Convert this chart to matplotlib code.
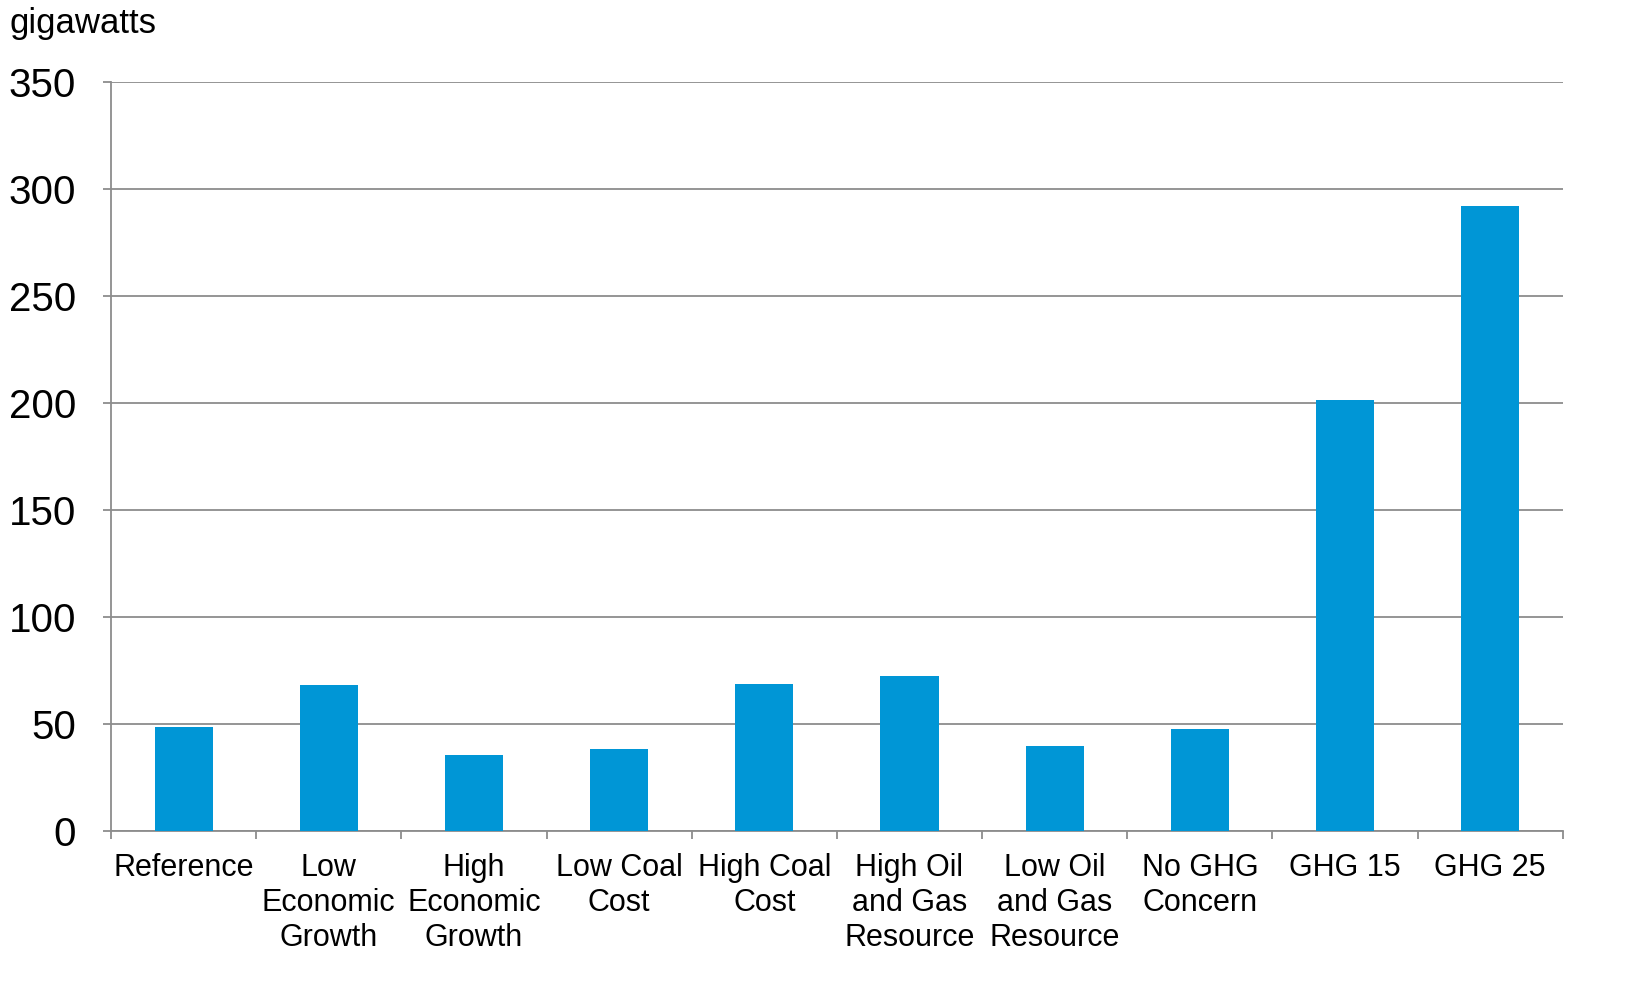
import matplotlib
matplotlib.use("Agg")
import matplotlib.pyplot as plt
import numpy as np

plt.rcParams['font.family'] = ['Liberation Sans', 'DejaVu Sans']

# Categorias e valores (gigawatts)
categorias = ["Reference", "Low\nEconomic\nGrowth", "High\nEconomic\nGrowth",
              "Low Coal\nCost", "High Coal\nCost", "High Oil\nand Gas\nResource",
              "Low Oil\nand Gas\nResource", "No GHG\nConcern", "GHG 15", "GHG 25"]
valores = [48.5, 68.2, 35.5, 38.3, 68.6, 72.5, 39.7, 47.7, 201.3, 292.0]
yticks = [0, 50, 100, 150, 200, 250, 300, 350]

COR_BARRA = '#0096D6'
COR_GRADE = '#8c8c8c'

fig = plt.figure(figsize=(16.33, 9.92), dpi=100)
ax = fig.add_axes([0.068, 0.1623, 0.889, 0.7550])

x = np.arange(len(categorias))
ax.bar(x, valores, width=0.4, color=COR_BARRA, zorder=3)

ax.set_xlim(-0.5, len(categorias) - 0.5)
ax.set_ylim(0, 350)
ax.set_yticks(yticks)
ax.tick_params(axis='y', labelsize=29, length=6, width=1.3, color=COR_GRADE, pad=19)
ax.grid(axis='y', color=COR_GRADE, linewidth=1.3, zorder=0)

#Ticks do eixo x entre as categorias
ax.set_xticks(np.arange(len(categorias) + 1) - 0.5)
ax.set_xticklabels([])
ax.set_xticks(x, minor=True)
ax.set_xticklabels(categorias, minor=True, fontsize=22, linespacing=1.22, va='top')
ax.tick_params(axis='x', which='major', length=6, width=1.3, color=COR_GRADE)
ax.tick_params(axis='x', which='minor', length=0, pad=16)

for lado in ['top', 'right']:
    ax.spines[lado].set_visible(False)
for lado in ['left', 'bottom']:
    ax.spines[lado].set_color(COR_GRADE)
    ax.spines[lado].set_linewidth(1.3)

fig.text(0.006, 0.967, "gigawatts", fontsize=25, va='baseline', ha='left')

fig.savefig("out.png", dpi=100)
